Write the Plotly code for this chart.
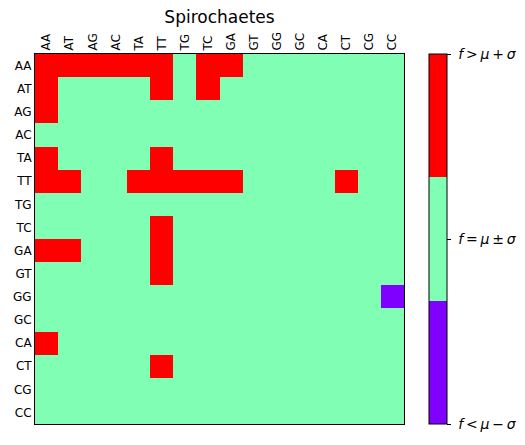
import plotly.graph_objects as go

labels = ["AA", "AT", "AG", "AC", "TA", "TT", "TG", "TC",
          "GA", "GT", "GG", "GC", "CA", "CT", "CG", "CC"]

# -1: f < mu - sigma, 0: f = mu +/- sigma, 1: f > mu + sigma
row_AA = [1, 1, 1, 1, 1, 1, 0, 1, 1, 0, 0, 0, 0, 0, 0, 0]
row_AT = [1, 0, 0, 0, 0, 1, 0, 1, 0, 0, 0, 0, 0, 0, 0, 0]
row_AG = [1, 0, 0, 0, 0, 0, 0, 0, 0, 0, 0, 0, 0, 0, 0, 0]
row_AC = [0, 0, 0, 0, 0, 0, 0, 0, 0, 0, 0, 0, 0, 0, 0, 0]
row_TA = [1, 0, 0, 0, 0, 1, 0, 0, 0, 0, 0, 0, 0, 0, 0, 0]
row_TT = [1, 1, 0, 0, 1, 1, 1, 1, 1, 0, 0, 0, 0, 1, 0, 0]
row_TG = [0, 0, 0, 0, 0, 0, 0, 0, 0, 0, 0, 0, 0, 0, 0, 0]
row_TC = [0, 0, 0, 0, 0, 1, 0, 0, 0, 0, 0, 0, 0, 0, 0, 0]
row_GA = [1, 1, 0, 0, 0, 1, 0, 0, 0, 0, 0, 0, 0, 0, 0, 0]
row_GT = [0, 0, 0, 0, 0, 1, 0, 0, 0, 0, 0, 0, 0, 0, 0, 0]
row_GG = [0, 0, 0, 0, 0, 0, 0, 0, 0, 0, 0, 0, 0, 0, 0, -1]
row_GC = [0, 0, 0, 0, 0, 0, 0, 0, 0, 0, 0, 0, 0, 0, 0, 0]
row_CA = [1, 0, 0, 0, 0, 0, 0, 0, 0, 0, 0, 0, 0, 0, 0, 0]
row_CT = [0, 0, 0, 0, 0, 1, 0, 0, 0, 0, 0, 0, 0, 0, 0, 0]
row_CG = [0, 0, 0, 0, 0, 0, 0, 0, 0, 0, 0, 0, 0, 0, 0, 0]
row_CC = [0, 0, 0, 0, 0, 0, 0, 0, 0, 0, 0, 0, 0, 0, 0, 0]

z = [row_AA, row_AT, row_AG, row_AC, row_TA, row_TT, row_TG, row_TC,
     row_GA, row_GT, row_GG, row_GC, row_CA, row_CT, row_CG, row_CC]

tick_vals = [-1, 0, 1]
ts = "\u2009"
tick_text = [f"&nbsp;<i>f</i>{ts}<{ts}<i>μ</i>{ts}−{ts}<i>σ</i>",
             f"&nbsp;<i>f</i>{ts}={ts}<i>μ</i>{ts}±{ts}<i>σ</i>",
             f"&nbsp;<i>f</i>{ts}>{ts}<i>μ</i>{ts}+{ts}<i>σ</i>"]

purple, green, red = "#8000ff", "#80ffb4", "#ff0000"
cscale = [[0, purple], [1/3, purple], [1/3, green], [2/3, green], [2/3, red], [1, red]]

W, H = 525, 445
L, R, T, B = 35, 121, 54, 21
PW = W - L - R

fig = go.Figure(go.Heatmap(
    z=z, x=labels, y=labels, zmin=-1, zmax=1, colorscale=cscale,
    hoverinfo="skip",
    colorbar=dict(
        tickvals=tick_vals, ticktext=tick_text,
        x=(429 - L) / PW, xanchor="left",
        thickness=18, thicknessmode="pixels",
        len=1, lenmode="fraction", y=0.5, yanchor="middle",
        outlinewidth=1, outlinecolor="black",
        ticks="outside", ticklen=4, tickcolor="black",
        tickfont=dict(family="DejaVu Sans", size=14, color="black"),
        xpad=0, ypad=0,
    ),
))

fig.update_layout(
    width=W, height=H,
    margin=dict(l=L, r=R, t=T, b=B, autoexpand=False),
    paper_bgcolor="white", plot_bgcolor="white",
    font=dict(family="DejaVu Sans", size=12, color="black"),
    title=dict(text="Spirochaetes", x=(L + (W - R)) / 2 / W, xanchor="center",
               y=1 - 17 / H, yanchor="middle",
               font=dict(family="DejaVu Sans", size=17, color="black")),
    xaxis=dict(side="top", tickangle=-90, showline=True, mirror=True,
               linecolor="black", linewidth=1, ticks="", showgrid=False,
               zeroline=False, tickfont=dict(size=12), constrain="domain"),
    yaxis=dict(autorange="reversed", showline=True, mirror=True,
               linecolor="black", linewidth=1, ticks="", showgrid=False,
               zeroline=False, tickfont=dict(size=12)),
)

fig.write_html("out.html")
